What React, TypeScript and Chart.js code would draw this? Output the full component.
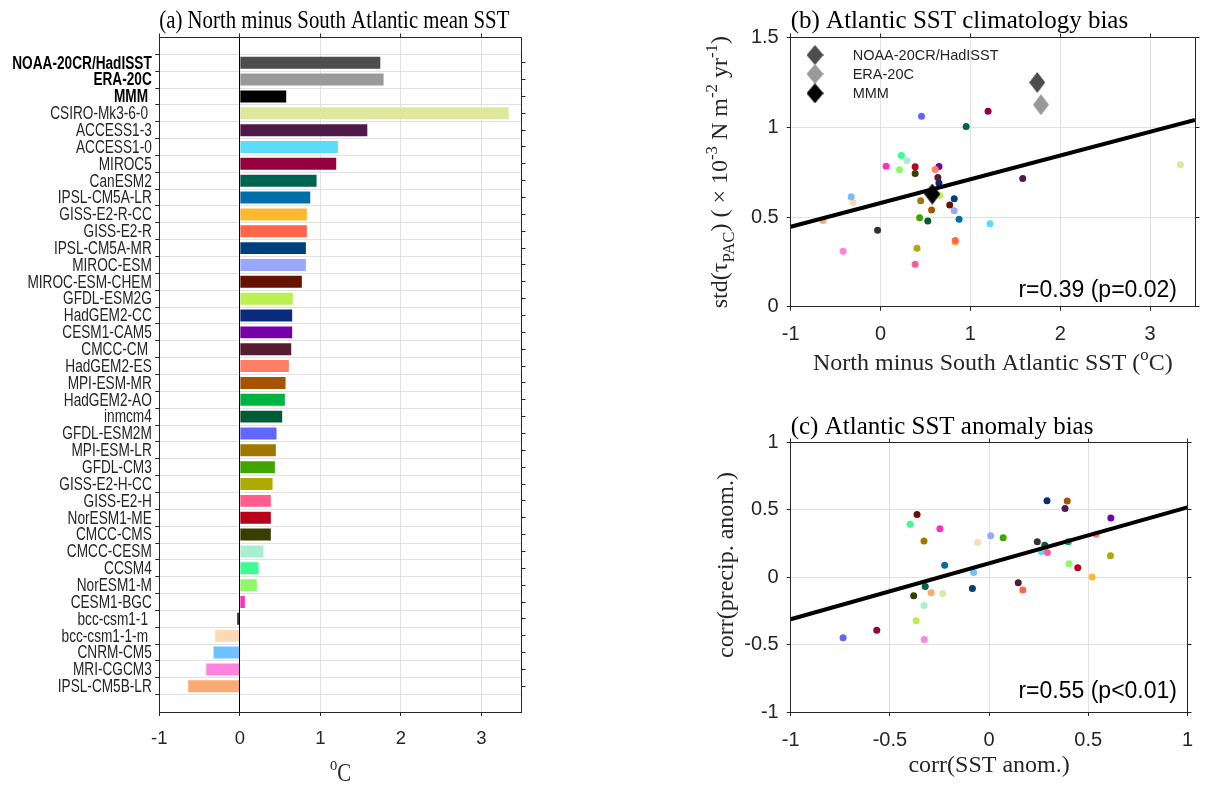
import React, { useEffect, useRef } from 'react';
import { Chart, registerables } from 'chart.js';

Chart.register(...registerables);

// ---------------- data ----------------
const modelNames = [
  'NOAA-20CR/HadISST', 'ERA-20C', 'MMM ', 'CSIRO-Mk3-6-0 ', 'ACCESS1-3', 'ACCESS1-0', 'MIROC5', 'CanESM2',
  'IPSL-CM5A-LR', 'GISS-E2-R-CC', 'GISS-E2-R', 'IPSL-CM5A-MR', 'MIROC-ESM', 'MIROC-ESM-CHEM', 'GFDL-ESM2G',
  'HadGEM2-CC', 'CESM1-CAM5', 'CMCC-CM ', 'HadGEM2-ES', 'MPI-ESM-MR', 'HadGEM2-AO', 'inmcm4', 'GFDL-ESM2M',
  'MPI-ESM-LR', 'GFDL-CM3', 'GISS-E2-H-CC', 'GISS-E2-H', 'NorESM1-ME', 'CMCC-CMS', 'CMCC-CESM', 'CCSM4',
  'NorESM1-M', 'CESM1-BGC', 'bcc-csm1-1 ', 'bcc-csm1-1-m ', 'CNRM-CM5', 'MRI-CGCM3', 'IPSL-CM5B-LR',
];
const obsCount = 3; // NOAA, ERA, MMM (bold labels, diamonds)

const barColors = [
  '#4d4d4d', '#999999', '#000000', '#dde89b', '#4f1a4a', '#5bdcfa', '#940040', '#006352',
  '#006fa8', '#fcb830', '#ff6649', '#013e7a', '#99a8fc', '#661203', '#baf050',
  '#0a2a7e', '#7700a8', '#561d30', '#ff7f66', '#a65400', '#00b442', '#005c37', '#6066ff',
  '#a07700', '#42a400', '#b0ab00', '#ff5c8f', '#b8001a', '#393d00', '#a9eed0', '#3cfc92',
  '#8ef76b', '#ff2fb6', '#333333', '#fdd9b6', '#6ec2ff', '#ff84e0', '#fcaa73',
];

// North minus South Atlantic mean SST (degC)
const sstDiff = [
  1.744, 1.785, 0.576, 3.338, 1.583, 1.218, 1.197, 0.953,
  0.874, 0.832, 0.832, 0.82, 0.82, 0.77, 0.658,
  0.65, 0.65, 0.638, 0.609, 0.568, 0.559, 0.526, 0.456,
  0.447, 0.435, 0.406, 0.385, 0.385, 0.385, 0.294, 0.232,
  0.211, 0.062, -0.033, -0.306, -0.327, -0.417, -0.641,
];

// std(tau_PAC) (x 1e-3 N m-2 yr-1)
const tauStd = [
  1.25, 1.126, 0.628, 0.791, 0.715, 0.463, 1.089, 1.004,
  0.487, 0.359, 0.369, 0.602, 0.535, 0.567, 0.62,
  0.69, 0.781, 0.72, 0.765, 0.539, 0.63, 0.478, 1.061,
  0.591, 0.496, 0.326, 0.237, 0.78, 0.743, 0.813, 0.843,
  0.763, 0.783, 0.426, 0.581, 0.613, 0.309, 0.481,
];

// corr(SST anom.)
const corrSst = [
  null, null, null, -0.234, 0.383, 0.264, -0.566, -0.322,
  -0.224, 0.52, 0.17, -0.084, 0.008, -0.363, -0.368,
  0.292, 0.614, 0.147, 0.54, 0.394, 0.399, 0.281, -0.736,
  -0.328, 0.071, 0.612, 0.294, 0.447, -0.38, -0.328, -0.398,
  0.403, -0.248, 0.243, -0.058, -0.078, -0.327, -0.292,
];

// corr(precip. anom.)
const corrPrecip = [
  null, null, null, -0.121, 0.509, 0.188, -0.393, -0.069,
  0.089, 0.002, -0.096, -0.084, 0.307, 0.465, -0.324,
  0.566, 0.438, -0.042, 0.319, 0.564, 0.262, 0.237, -0.45,
  0.269, 0.292, 0.158, 0.183, 0.069, -0.138, -0.21, 0.393,
  0.099, 0.358, 0.262, 0.257, 0.035, -0.462, -0.116,
];

const xRangeA = [-1, 3.5];
const xTicksA = [-1, 0, 1, 2, 3];
const xRangeB = [-1, 3.5];
const xTicksB = [-1, 0, 1, 2, 3];
const yRangeB = [0, 1.5];
const yTicksB = [0, 0.5, 1, 1.5];
const rangeC = [-1, 1];
const ticksC = [-1, -0.5, 0, 0.5, 1];

const fitB = { intercept: 0.578, slope: 0.1322 };
const fitC = { intercept: 0.1025, slope: 0.4145 };
const statB = 'r=0.39 (p=0.02)';
const statC = 'r=0.55 (p<0.01)';

// ---------------- styling helpers ----------------
const W = 1205;
const H = 785;
const SANS = '"Liberation Sans", Arial, sans-serif';
const SERIF = '"Liberation Serif", "Times New Roman", serif';
const AXIS = '#262626';
const GRID = '#e1e1e1';

type Part = [string, number]; // 0 normal, 1 superscript, -1 subscript

function drawRich(
  ctx: CanvasRenderingContext2D, parts: Part[], x: number, y: number, size: number,
  family: string, align: 'left' | 'center' | 'right', sx = 1, rot = 0, color = AXIS,
  weight = 'normal', baseline: CanvasTextBaseline = 'alphabetic',
) {
  ctx.save();
  ctx.translate(x, y);
  if (rot) ctx.rotate(rot);
  ctx.scale(sx, 1);
  const segs = parts.map(([t, k]) => {
    const s = k ? size * 0.7 : size;
    ctx.font = `${weight} ${s}px ${family}`;
    return { t, k, s, w: ctx.measureText(t).width };
  });
  const total = segs.reduce((a, b) => a + b.w, 0);
  let cx = align === 'left' ? 0 : align === 'center' ? -total / 2 : -total;
  ctx.fillStyle = color;
  ctx.textAlign = 'left';
  ctx.textBaseline = baseline;
  for (const s of segs) {
    ctx.font = `${weight} ${s.s}px ${family}`;
    const dy = s.k === 1 ? -size * 0.42 : s.k === -1 ? size * 0.3 : 0;
    ctx.fillText(s.t, cx, dy);
    cx += s.w;
  }
  ctx.restore();
}

const al = (v: number) => Math.round(v - 0.5) + 0.5;

function drawFrame(chart: any, tickLen = 4) {
  const ctx: CanvasRenderingContext2D = chart.ctx;
  const { left, right, top, bottom } = chart.chartArea;
  const xs = chart.scales.x;
  const ys = chart.scales.y;
  ctx.save();
  ctx.strokeStyle = AXIS;
  ctx.lineWidth = 1;
  ctx.beginPath();
  ctx.moveTo(al(left), al(top));
  ctx.lineTo(al(right), al(top));
  ctx.moveTo(al(right), al(top));
  ctx.lineTo(al(right), al(bottom));
  for (const t of xs.ticks) {
    const px = al(xs.getPixelForValue(t.value));
    ctx.moveTo(px, al(top));
    ctx.lineTo(px, al(top) - tickLen);
  }
  for (const t of ys.ticks) {
    const py = al(ys.getPixelForValue(t.value));
    ctx.moveTo(al(right), py);
    ctx.lineTo(al(right) + tickLen, py);
  }
  ctx.stroke();
  ctx.restore();
}

function makeDiamond(color: string, w = 16, h = 21) {
  const c = document.createElement('canvas');
  c.width = w;
  c.height = h;
  const g = c.getContext('2d')!;
  g.fillStyle = color;
  g.beginPath();
  g.moveTo(w / 2, 0);
  g.lineTo(w, h / 2);
  g.lineTo(w / 2, h);
  g.lineTo(0, h / 2);
  g.closePath();
  g.fill();
  return c;
}

const fixTicks = (vals: number[]) => (s: any) => {
  s.ticks = vals.map((v) => ({ value: v }));
};

function axisStyle(fontFamily: string, size: number, padding: number) {
  return {
    grid: { color: GRID, tickColor: AXIS, tickLength: 4, lineWidth: 1 },
    border: { color: AXIS, width: 1 },
    ticks: {
      color: AXIS,
      padding,
      font: { family: fontFamily, size },
      callback: (v: any) => String(v),
    },
  };
}

// ---------------- chart (a) ----------------
function configA(): any {
  const A = { left: 159.3, right: 521.7, top: 37, bottom: 712 };
  return {
    type: 'bar',
    data: {
      datasets: [{
        data: sstDiff.map((v, i) => ({ x: v, y: i + 1 })),
        backgroundColor: barColors,
        borderWidth: 0,
        barPercentage: 0.71,
        categoryPercentage: 1,
      }],
    },
    options: {
      animation: false,
      responsive: false,
      indexAxis: 'y',
      events: [],
      layout: { padding: { left: 0, right: W - A.right, top: A.top, bottom: 0 } },
      plugins: { legend: { display: false }, tooltip: { enabled: false } },
      scales: {
        x: {
          type: 'linear', min: xRangeA[0], max: xRangeA[1],
          afterBuildTicks: fixTicks(xTicksA),
          afterFit: (s: any) => { s.height = H - A.bottom; },
          ...axisStyle(SANS, 18.5, 12),
        },
        y: {
          type: 'linear', min: 0, max: modelNames.length + 1, reverse: true,
          afterBuildTicks: fixTicks(modelNames.map((_, i) => i + 1)),
          afterFit: (s: any) => { s.width = A.left; },
          grid: { color: GRID, tickColor: AXIS, tickLength: 4, lineWidth: 1 },
          border: { color: AXIS, width: 1 },
          // category names are drawn narrow by the plugin below (the reference uses condensed text)
          ticks: { display: false, autoSkip: false },
        },
      },
    },
    plugins: [{
      id: 'decorA',
      afterDatasetsDraw(chart: any) {
        const ctx = chart.ctx;
        const { top, bottom } = chart.chartArea;
        const x0 = al(chart.scales.x.getPixelForValue(0));
        ctx.save();
        ctx.strokeStyle = '#000';
        ctx.lineWidth = 1;
        ctx.beginPath();
        ctx.moveTo(x0, top);
        ctx.lineTo(x0, bottom);
        ctx.stroke();
        ctx.restore();
      },
      afterDraw(chart: any) {
        const ctx = chart.ctx;
        const { left, right } = chart.chartArea;
        const ys = chart.scales.y;
        drawFrame(chart);
        ys.ticks.forEach((t: any, i: number) => {
          const name = modelNames[t.value - 1];
          if (!name) return;
          drawRich(ctx, [[name, 0]], left - 7.5, ys.getPixelForValue(t.value) + 1, 17.5, SANS, 'right', 0.78,
            0, i < obsCount ? '#000' : AXIS, i < obsCount ? 'bold' : 'normal', 'middle');
        });
        drawRich(ctx, [['(a) North minus South Atlantic mean SST', 0]], left, 28, 26, SERIF, 'left', 0.8, 0, '#000');
        drawRich(ctx, [['o', 1], ['C', 0]], (left + right) / 2, 781, 26, SERIF, 'center', 0.8);
      },
    }],
  };
}

// ---------------- chart (b) ----------------
function configB(): any {
  const B = { left: 790.7, right: 1195, top: 37.6, bottom: 306.7 };
  const yAxisW = 90;
  const xAxisH = 60;
  const diamonds = [makeDiamond(barColors[0]), makeDiamond(barColors[1]), makeDiamond(barColors[2])];
  const legendDiamonds = [makeDiamond(barColors[0], 17, 20), makeDiamond(barColors[1], 17, 20), makeDiamond(barColors[2], 17, 20)];
  const idx = modelNames.map((_, i) => i).filter((i) => i >= obsCount);
  const fitLine = xRangeB.map((x) => ({ x, y: fitB.intercept + fitB.slope * x }));
  return {
    type: 'scatter',
    data: {
      datasets: [
        {
          label: 'obs',
          data: [0, 1, 2].map((i) => ({ x: sstDiff[i], y: tauStd[i] })),
          pointStyle: diamonds,
          pointRadius: 8,
          pointBorderWidth: 0,
        },
        {
          label: 'fit',
          data: fitLine,
          showLine: true,
          borderColor: '#000',
          borderWidth: 4,
          pointRadius: 0,
        },
        {
          label: 'models',
          data: idx.map((i) => ({ x: sstDiff[i], y: tauStd[i] })),
          pointBackgroundColor: idx.map((i) => barColors[i]),
          pointBorderColor: idx.map((i) => barColors[i]),
          pointBorderWidth: 0,
          pointRadius: 3.5,
        },
      ],
    },
    options: {
      animation: false,
      responsive: false,
      events: [],
      layout: { padding: { left: B.left - yAxisW, right: W - B.right, top: B.top, bottom: H - B.bottom - xAxisH } },
      plugins: { legend: { display: false }, tooltip: { enabled: false } },
      scales: {
        x: {
          type: 'linear', min: xRangeB[0], max: xRangeB[1],
          afterBuildTicks: fixTicks(xTicksB),
          afterFit: (s: any) => { s.height = xAxisH; },
          ...axisStyle(SANS, 20, 12),
        },
        y: {
          type: 'linear', min: yRangeB[0], max: yRangeB[1],
          afterBuildTicks: fixTicks(yTicksB),
          afterFit: (s: any) => { s.width = yAxisW; },
          ...axisStyle(SANS, 20, 8),
        },
      },
    },
    plugins: [{
      id: 'decorB',
      afterDraw(chart: any) {
        const ctx: CanvasRenderingContext2D = chart.ctx;
        const { left, right, top, bottom } = chart.chartArea;
        drawFrame(chart);
        drawRich(ctx, [['(b) Atlantic SST climatology bias', 0]], left, 28, 25, SERIF, 'left', 1, 0, '#000');
        drawRich(ctx, [['North minus South Atlantic SST (', 0], ['o', 1], ['C)', 0]], (left + right) / 2, 370, 24, SERIF, 'center');
        drawRich(ctx, [['std(τ', 0], ['PAC', -1], [') ( × 10', 0], ['-3', 1], [' N m', 0], ['-2', 1], [' yr', 0], ['-1', 1], [')', 0]],
          727, (top + bottom) / 2, 24, SERIF, 'center', 1, -Math.PI / 2);
        // legend
        const rows = [55, 74, 93.3];
        ctx.save();
        ctx.font = `14.5px ${SANS}`;
        ctx.fillStyle = AXIS;
        ctx.textAlign = 'left';
        ctx.textBaseline = 'middle';
        rows.forEach((ry, i) => {
          const d = legendDiamonds[i];
          ctx.drawImage(d, 815 - d.width / 2, ry - d.height / 2);
          ctx.fillText(modelNames[i].trim(), 852.7, ry + 1);
        });
        ctx.restore();
        drawRich(ctx, [[statB, 0]], 1177, 296.7, 23, SANS, 'right', 1, 0, '#000');
      },
    }],
  };
}

// ---------------- chart (c) ----------------
function configC(): any {
  const C = { left: 790.7, right: 1195, top: 442.3, bottom: 712 };
  const yAxisW = 90;
  const xAxisH = 60;
  const idx = modelNames.map((_, i) => i).filter((i) => corrSst[i] !== null);
  const fitLine = rangeC.map((x) => ({ x, y: fitC.intercept + fitC.slope * x }));
  return {
    type: 'scatter',
    data: {
      datasets: [
        {
          label: 'fit',
          data: fitLine,
          showLine: true,
          borderColor: '#000',
          borderWidth: 4,
          pointRadius: 0,
        },
        {
          label: 'models',
          data: idx.map((i) => ({ x: corrSst[i], y: corrPrecip[i] })),
          pointBackgroundColor: idx.map((i) => barColors[i]),
          pointBorderColor: idx.map((i) => barColors[i]),
          pointBorderWidth: 0,
          pointRadius: 3.5,
        },
      ],
    },
    options: {
      animation: false,
      responsive: false,
      events: [],
      layout: { padding: { left: C.left - yAxisW, right: W - C.right, top: C.top, bottom: H - C.bottom - xAxisH } },
      plugins: { legend: { display: false }, tooltip: { enabled: false } },
      scales: {
        x: {
          type: 'linear', min: rangeC[0], max: rangeC[1],
          afterBuildTicks: fixTicks(ticksC),
          afterFit: (s: any) => { s.height = xAxisH; },
          ...axisStyle(SANS, 20, 12),
        },
        y: {
          type: 'linear', min: rangeC[0], max: rangeC[1],
          afterBuildTicks: fixTicks(ticksC),
          afterFit: (s: any) => { s.width = yAxisW; },
          ...axisStyle(SANS, 20, 8),
        },
      },
    },
    plugins: [{
      id: 'decorC',
      afterDraw(chart: any) {
        const ctx: CanvasRenderingContext2D = chart.ctx;
        const { left, right } = chart.chartArea;
        drawFrame(chart);
        drawRich(ctx, [['(c) Atlantic SST anomaly bias', 0]], left, 433.5, 25, SERIF, 'left', 1, 0, '#000');
        drawRich(ctx, [['corr(SST anom.)', 0]], (left + right) / 2, 772, 24, SERIF, 'center');
        drawRich(ctx, [['corr(precip. anom.)', 0]], 733, 565, 24, SERIF, 'center', 1, -Math.PI / 2);
        drawRich(ctx, [[statC, 0]], 1177, 698.3, 23, SANS, 'right', 1, 0, '#000');
      },
    }],
  };
}

export default function App() {
  const refA = useRef<HTMLCanvasElement>(null);
  const refB = useRef<HTMLCanvasElement>(null);
  const refC = useRef<HTMLCanvasElement>(null);

  useEffect(() => {
    const charts = [
      new Chart(refA.current!, configA()),
      new Chart(refB.current!, configB()),
      new Chart(refC.current!, configC()),
    ];
    return () => charts.forEach((c) => c.destroy());
  }, []);

  const st: React.CSSProperties = { position: 'absolute', left: 0, top: 0 };
  return (
    <div style={{ position: 'absolute', left: 0, top: 0, width: W, height: H, background: '#fff', overflow: 'hidden' }}>
      <canvas ref={refA} width={W} height={H} style={st} />
      <canvas ref={refB} width={W} height={H} style={st} />
      <canvas ref={refC} width={W} height={H} style={st} />
    </div>
  );
}
